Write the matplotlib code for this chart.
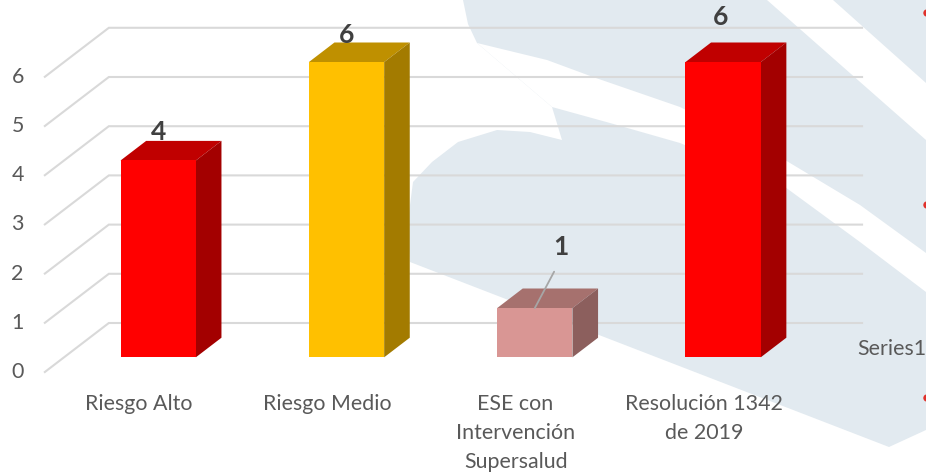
import matplotlib
matplotlib.use("Agg")
import matplotlib.pyplot as plt
from matplotlib.patches import Polygon, Ellipse
import numpy as np

# ---------------- data ----------------
categories = ["Riesgo Alto", "Riesgo Medio", "ESE con\nIntervención\nSupersalud", "Resolución 1342\nde 2019"]
values = [4, 6, 1, 6]
y_ticks = [0, 1, 2, 3, 4, 5, 6]
series_name = "Series1"

# ---------------- styles ----------------
front_colors = ["#FF0000", "#FFC000", "#D99694", "#FF0000"]
top_colors = ["#C00000", "#BF9000", "#A6716E", "#C00000"]
side_colors = ["#A30000", "#A37B00", "#8C5F5D", "#A30000"]
label_offsets = [(0, 28), (0, 27), (26, 61), (-3, 45)]  # pixels from front-top centre
leader = [False, False, True, False]

plt.rcParams["font.family"] = ["Lato", "DejaVu Sans"]
FS = 15.4

W, H = 926, 474
fig = plt.figure(figsize=(W / 100, H / 100), dpi=100)
fig.patch.set_facecolor("white")

ax = fig.add_axes([0, 0, 1, 1])
PXC, X0, PXV, Y0 = 188.3, 139.0, 49.2, 372.0
ax.set_xlim(-X0 / PXC, (W - X0) / PXC)
ax.set_ylim((Y0 - H) / PXV, Y0 / PXV)
ax.axis("off")

# ---------------- background watermark ----------------
def fp(pts):
    return [(x / W, 1 - y / H) for x, y in pts]

blue = "#E2EAF0"
bg1 = [(463, 0), (926, 0), (926, 430), (889, 447), (410, 262), (407, 228), (413, 182),
       (432, 162), (458, 142), (497, 130), (530, 132), (562, 140), (552, 107),
       (477, 43), (468, 24)]
band = [(477, 43), (547, 60), (593, 77), (680, 107), (785, 160), (860, 205),
        (926, 253), (926, 292), (860, 242), (785, 187), (680, 143), (610, 123),
        (552, 107)]
stripe = [(767, 0), (833, 0), (926, 83), (926, 140)]
for poly, col in [(bg1, blue), (band, "white"), (stripe, "white")]:
    ax.add_patch(Polygon(fp(poly), closed=True, transform=fig.transFigure,
                         facecolor=col, edgecolor="none", zorder=0))

# ---------------- 3D frame ----------------
DZX, DZY = 64 / PXC, 49 / PXV
n = len(categories)
x = np.arange(n)
c0, c1 = -0.5, n - 0.5
grid_col = "#D9D9D9"
for v in y_ticks:
    ax.plot([c0, c0 + DZX, c1 + DZX], [v, v + DZY, v + DZY], color=grid_col,
            lw=1.5, zorder=1, solid_joinstyle="miter")
    ax.annotate(str(v), (c0, v), xytext=(-21, 0), textcoords="offset pixels",
                ha="right", va="center", fontsize=FS, color="#595959")

# ---------------- bars ----------------
w = 0.4
zf, zb = 0.3, 0.7
xf = x + zf * DZX
bf = zf * DZY
ax.bar(xf, values, width=w, bottom=bf, color=front_colors, zorder=4, linewidth=0)
for i, v in enumerate(values):
    l, r = xf[i] - w / 2, xf[i] + w / 2
    ddx, ddy = (zb - zf) * DZX, (zb - zf) * DZY
    top = [(l, v + bf), (r, v + bf), (r + ddx, v + bf + ddy), (l + ddx, v + bf + ddy)]
    side = [(r, bf), (r, v + bf), (r + ddx, v + bf + ddy), (r + ddx, bf + ddy)]
    ax.add_patch(Polygon(top, closed=True, facecolor=top_colors[i], edgecolor="none", zorder=3))
    ax.add_patch(Polygon(side, closed=True, facecolor=side_colors[i], edgecolor="none", zorder=3))
    kw = {}
    if leader[i]:
        kw["arrowprops"] = dict(arrowstyle="-", color="#A6A6A6", lw=1.3,
                                shrinkA=8, shrinkB=0, relpos=(0.5, 0.0))
    ax.annotate(str(v), (xf[i], v + bf), xytext=label_offsets[i], textcoords="offset pixels",
                ha="center", va="center", fontsize=19, fontweight="bold",
                color="#404040", zorder=6, **kw)

# ---------------- category labels ----------------
for i, lab in enumerate(categories):
    ax.annotate(lab, (x[i], 0), xytext=(0, -22), textcoords="offset pixels",
                ha="center", va="top", fontsize=FS, color="#595959",
                linespacing=1.55)

fig.text(857 / W, 1 - 349 / H, series_name, ha="left", va="center",
         fontsize=FS, color="#595959")

# slide bullets cut by the edge
for yb in [13, 205, 398]:
    fig.add_artist(Ellipse((927 / W, 1 - yb / H), 6 / W, 6 / H,
                           transform=fig.transFigure, color="#E0302A"))

fig.savefig("out.png", dpi=100)
